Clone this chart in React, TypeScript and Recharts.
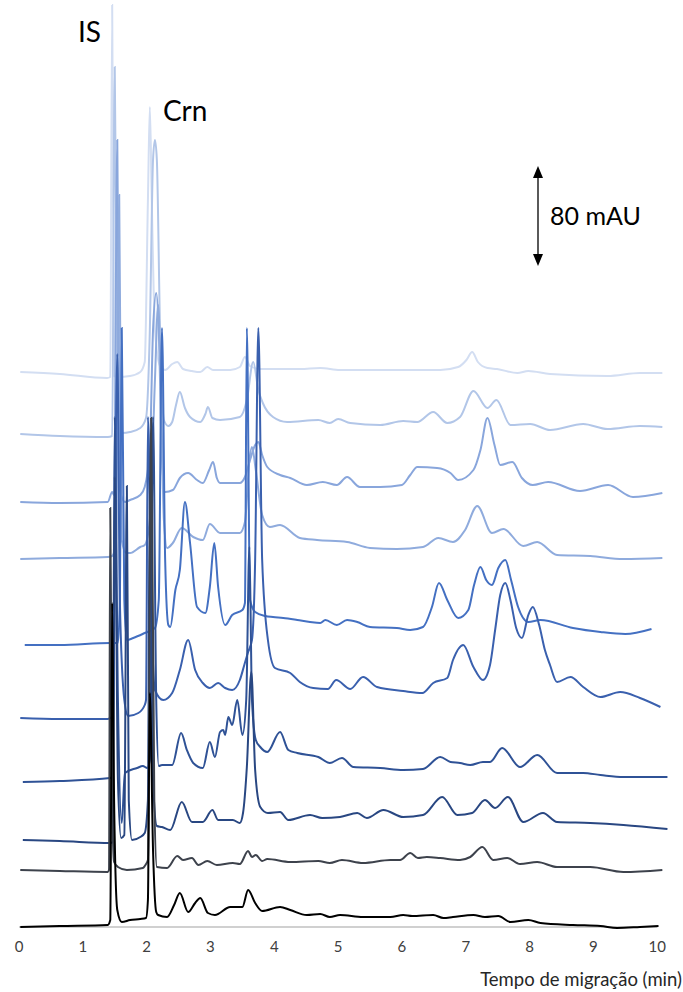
import React from 'react';
import { LineChart, Line, XAxis, YAxis, ReferenceLine } from 'recharts';

// migration time (min) vs signal above each trace's own baseline
type Pt = [number, number];

const TICKS = [0, 1, 2, 3, 4, 5, 6, 7, 8, 9, 10];

// vertical offset of each electropherogram (stacked, top trace first)
const OFFSETS = [554, 492, 424, 369, 283, 209, 145, 86, 56, 1];

const COLORS = ['#d3def2', '#b2c6e8', '#89a6dc', '#8fabdd', '#4470c2', '#3a60ae', '#2f5296', '#294782', '#3d424c', '#000000'];

const trace1: Pt[] = [
  [0.02, 1], [0.64, -1], [1.38, -5], [1.43, -4], [1.46, 368], [1.49, -3], [1.55, -4], [1.74, -3], [1.9, 1],
  [1.97, 11], [2.02, 173], [2.05, 266], [2.08, 173], [2.13, 43], [2.21, 7], [2.29, 3], [2.4, 9], [2.48, 11],
  [2.57, 4], [2.71, 2], [2.84, 1], [2.95, 6], [3.04, 3], [3.31, 3], [3.46, 6], [3.54, 16], [3.62, 7], [3.78, 4],
  [4.4, 4], [4.72, 5], [5.03, 3], [5.97, 3], [6.6, 3], [6.88, 6], [7.01, 13], [7.1, 21], [7.19, 11], [7.34, 5],
  [7.49, 4], [7.81, 0], [7.98, 2], [8.32, -1], [9.22, -3], [9.73, 0], [10.08, 0],
];

const trace2: Pt[] = [
  [0.02, 1], [0.64, -1], [1.39, -2], [1.46, -1], [1.5, 368], [1.55, 10], [1.61, 2], [1.74, 3], [1.9, 7],
  [1.99, 17], [2.05, 105], [2.1, 275], [2.13, 295], [2.16, 275], [2.21, 105], [2.27, 15], [2.34, 9], [2.4, 13],
  [2.46, 30], [2.52, 43], [2.6, 27], [2.68, 18], [2.84, 13], [2.92, 21], [2.96, 28], [3.03, 17], [3.15, 15],
  [3.46, 18], [3.57, 35], [3.67, 73], [3.75, 45], [3.82, 32], [3.98, 18], [4.2, 13], [4.69, 15], [4.87, 12],
  [5.0, 16], [5.19, 12], [5.66, 10], [6.02, 14], [6.24, 13], [6.49, 23], [6.71, 12], [6.91, 18], [7.12, 44],
  [7.34, 27], [7.48, 35], [7.7, 10], [8.01, 11], [8.32, 5], [8.84, 11], [9.22, 6], [9.73, 9], [10.08, 8],
];

const trace3: Pt[] = [
  [0.02, 1], [0.64, 0], [1.39, 1], [1.46, 11], [1.49, 8], [1.54, 363], [1.58, 13], [1.66, 1], [1.74, 3],
  [1.9, 8], [1.97, 16], [2.05, 53], [2.1, 173], [2.15, 210], [2.19, 173], [2.24, 43], [2.29, 11], [2.41, 13],
  [2.52, 25], [2.65, 30], [2.79, 23], [2.88, 20], [2.98, 33], [3.04, 41], [3.1, 25], [3.15, 20], [3.46, 20],
  [3.54, 26], [3.62, 43], [3.7, 58], [3.75, 61], [3.81, 48], [3.89, 36], [4.09, 28], [4.25, 25], [4.51, 18],
  [4.76, 21], [4.98, 18], [5.14, 26], [5.34, 16], [5.66, 16], [6.0, 18], [6.13, 28], [6.24, 36], [6.55, 35],
  [6.76, 30], [6.88, 23], [7.12, 33], [7.23, 53], [7.34, 85], [7.45, 58], [7.54, 38], [7.73, 41], [7.88, 25],
  [8.05, 18], [8.29, 21], [8.79, 12], [9.23, 18], [9.62, 6], [10.08, 10],
];

const trace4: Pt[] = [
  [0.02, -1], [0.64, 0], [1.39, 1], [1.46, 2], [1.52, 18], [1.57, 363], [1.61, 18], [1.68, 5], [1.74, 5],
  [1.9, 11], [1.97, 13], [2.05, 38], [2.13, 178], [2.18, 253], [2.22, 178], [2.27, 38], [2.32, 10], [2.41, 15],
  [2.55, 30], [2.73, 21], [2.88, 18], [2.99, 34], [3.15, 25], [3.46, 25], [3.54, 36], [3.61, 98], [3.65, 111],
  [3.71, 88], [3.81, 43], [3.93, 31], [4.09, 33], [4.4, 20], [4.67, 18], [5.14, 16], [5.5, 10], [5.92, 9],
  [6.33, 11], [6.57, 20], [6.8, 16], [6.99, 28], [7.18, 52], [7.41, 25], [7.59, 29], [7.9, 12], [8.12, 16],
  [8.43, 3], [8.95, 2], [9.47, -1], [10.08, 0],
];

const trace5: Pt[] = [
  [0.09, -1], [0.64, -1], [1.43, 1], [1.55, 1], [1.58, 44], [1.61, 316], [1.65, 44], [1.69, 4], [1.79, 6],
  [1.97, 11], [2.13, 16], [2.19, 44], [2.24, 316], [2.29, 84], [2.34, 19], [2.37, 17], [2.45, 54], [2.52, 74],
  [2.6, 142], [2.68, 101], [2.79, 37], [2.92, 31], [2.99, 57], [3.06, 101], [3.12, 57], [3.23, 19], [3.34, 29],
  [3.5, 34], [3.54, 41], [3.57, 316], [3.62, 44], [3.7, 32], [3.86, 28], [3.98, 27], [4.14, 26], [4.36, 24],
  [4.56, 22], [4.72, 21], [4.8, 24], [4.98, 19], [5.14, 24], [5.3, 22], [5.5, 17], [5.92, 16], [6.13, 14],
  [6.33, 17], [6.47, 37], [6.58, 61], [6.71, 44], [6.88, 26], [7.04, 34], [7.13, 59], [7.23, 77], [7.32, 64],
  [7.41, 59], [7.51, 76], [7.62, 84], [7.71, 64], [7.82, 37], [7.98, 22], [8.17, 24], [8.68, 16], [9.11, 12],
  [9.5, 10], [9.91, 15],
];

const trace6: Pt[] = [
  [0.02, 0], [0.64, -1], [1.39, -1], [1.47, 2], [1.54, 364], [1.58, 118], [1.65, 18], [1.71, 2], [1.87, 5],
  [1.97, 13], [1.99, 18], [2.02, 301], [2.07, 118], [2.13, 28], [2.26, 18], [2.4, 25], [2.52, 48], [2.65, 78],
  [2.76, 48], [2.88, 35], [2.99, 30], [3.12, 35], [3.23, 30], [3.34, 28], [3.46, 38], [3.53, 53], [3.59, 66],
  [3.65, 78], [3.7, 158], [3.75, 390], [3.81, 158], [3.9, 78], [4.01, 50], [4.25, 45], [4.4, 36], [4.61, 30],
  [4.84, 29], [4.97, 38], [5.19, 29], [5.39, 41], [5.61, 31], [6.02, 27], [6.32, 25], [6.49, 35], [6.71, 40],
  [6.8, 58], [6.96, 73], [7.12, 51], [7.27, 38], [7.38, 53], [7.46, 88], [7.54, 123], [7.62, 135], [7.7, 118],
  [7.79, 90], [7.88, 80], [7.98, 103], [8.05, 111], [8.15, 93], [8.24, 68], [8.32, 53], [8.43, 36], [8.64, 41],
  [8.84, 31], [9.11, 21], [9.42, 26], [9.73, 20], [10.05, 11],
];

const trace7: Pt[] = [
  [0.06, 0], [0.64, 1], [1.43, 4], [1.47, 6], [1.5, 365], [1.55, 82], [1.61, -41], [1.66, 9], [1.85, 14],
  [1.94, 16], [2.01, 14], [2.05, 22], [2.1, 365], [2.15, 82], [2.19, 16], [2.24, 17], [2.4, 17], [2.54, 49],
  [2.63, 32], [2.73, 19], [2.88, 14], [2.99, 40], [3.07, 25], [3.15, 50], [3.2, 52], [3.23, 47], [3.28, 65],
  [3.34, 57], [3.42, 82], [3.5, 47], [3.56, 82], [3.61, 235], [3.65, 82], [3.71, 42], [3.78, 35], [3.89, 30],
  [4.09, 50], [4.22, 32], [4.36, 29], [4.69, 25], [4.87, 19], [5.06, 24], [5.24, 15], [5.66, 14], [6.02, 12],
  [6.33, 13], [6.6, 25], [6.76, 20], [6.91, 19], [7.07, 17], [7.27, 20], [7.38, 20], [7.57, 34], [7.85, 15],
  [8.12, 27], [8.43, 9], [8.84, 9], [9.11, 7], [9.47, 5], [10.16, 5],
];

const trace8: Pt[] = [
  [0.06, 1], [0.64, 0], [1.43, -2], [1.47, -1], [1.5, 364], [1.55, 61], [1.6, 3], [1.65, 6], [1.69, 355],
  [1.72, 41], [1.77, 1], [1.9, 4], [1.97, 8], [2.02, 41], [2.05, 364], [2.1, 61], [2.16, 15], [2.24, 14],
  [2.37, 11], [2.55, 39], [2.71, 19], [2.88, 19], [3.03, 31], [3.12, 21], [3.35, 21], [3.46, 18], [3.51, 28],
  [3.57, 74], [3.64, 169], [3.7, 71], [3.78, 34], [3.9, 28], [4.09, 29], [4.22, 21], [4.56, 26], [4.75, 23],
  [5.03, 24], [5.3, 28], [5.45, 23], [5.71, 31], [6.02, 24], [6.33, 26], [6.63, 44], [6.87, 26], [7.1, 28],
  [7.3, 41], [7.46, 33], [7.66, 44], [7.9, 19], [8.21, 28], [8.43, 19], [8.95, 18], [9.47, 16], [10.16, 12],
];

const trace9: Pt[] = [
  [0.02, 1], [0.64, 0], [1.39, -1], [1.41, 1], [1.43, 363], [1.46, 71], [1.49, 9], [1.55, 4], [1.69, 1],
  [1.94, 3], [1.97, 5], [2.02, 11], [2.07, 453], [2.12, 71], [2.16, 4], [2.32, 3], [2.48, 15], [2.57, 11],
  [2.71, 13], [2.81, 6], [2.95, 10], [3.1, 6], [3.35, 8], [3.46, 7], [3.59, 20], [3.65, 14], [3.71, 16],
  [3.81, 10], [3.89, 12], [4.25, 9], [4.69, 10], [4.87, 8], [5.06, 11], [5.39, 8], [5.82, 11], [5.97, 11],
  [6.13, 18], [6.25, 13], [6.39, 14], [6.6, 13], [6.91, 11], [7.07, 14], [7.26, 24], [7.43, 11], [7.65, 13],
  [7.85, 7], [8.12, 9], [8.43, 4], [8.95, 4], [9.47, -1], [10.08, 1],
];

const trace10: Pt[] = [
  [0.02, -1], [0.64, 0], [1.39, 1], [1.43, 6], [1.46, 323], [1.49, 126], [1.54, 16], [1.61, 4], [1.74, 6],
  [1.9, 7], [1.99, 8], [2.02, 26], [2.05, 233], [2.1, 76], [2.15, 14], [2.18, 11], [2.32, 9], [2.43, 21],
  [2.52, 33], [2.65, 14], [2.76, 23], [2.84, 28], [2.96, 13], [3.07, 11], [3.31, 19], [3.5, 19], [3.59, 36],
  [3.7, 23], [3.81, 15], [4.09, 19], [4.25, 16], [4.51, 11], [4.72, 12], [4.87, 9], [5.03, 11], [5.39, 9],
  [5.82, 9], [6.02, 11], [6.16, 10], [6.49, 11], [6.65, 8], [6.8, 9], [7.12, 11], [7.3, 9], [7.51, 10],
  [7.7, 4], [7.98, 6], [8.17, 3], [8.68, 1], [9.11, 0], [9.37, -2], [9.73, -1], [10.02, 0],
];

const TRACES = [trace1, trace2, trace3, trace4, trace5, trace6, trace7, trace8, trace9, trace10];

const font = 'Lato, "Open Sans", sans-serif';

export default function App() {
  const series = TRACES.map((tr, i) => tr.map(([t, s]) => ({ t, v: OFFSETS[i] + s })));

  return (
    <div style={{ position: 'absolute', left: 0, top: 0, width: 683, height: 992, background: '#fff' }}>
      <LineChart width={683} height={992} margin={{ top: 0, right: 13, left: 19, bottom: 7 }}>
        <XAxis
          dataKey="t"
          type="number"
          domain={[0, 10.2]}
          ticks={TICKS}
          axisLine={false}
          tickLine={false}
          tickMargin={0}
          height={50}
          tick={{ fontSize: 15, fill: '#404040', fontFamily: font }}
        />
        <YAxis type="number" domain={[-8, 927]} hide />
        <ReferenceLine segment={[{ x: 0, y: 0 }, { x: 10, y: 0 }]} stroke="#c0c0c0" strokeWidth={1.5} />
        {series.map((d, i) => (
          <Line
            key={i}
            data={d}
            dataKey="v"
            type="monotone"
            stroke={COLORS[i]}
            strokeWidth={2}
            dot={false}
            isAnimationActive={false}
          />
        ))}
      </LineChart>
      <svg width={683} height={992} style={{ position: 'absolute', left: 0, top: 0, pointerEvents: 'none' }}>
        <text x={78} y={42} fontSize={28} fontFamily={font} fill="#000">IS</text>
        <text x={163} y={121} fontSize={28} fontFamily={font} fill="#000">Crn</text>
        <line x1={538} y1={176} x2={538} y2={256} stroke="#000" strokeWidth={1.3} />
        <polygon points="538,166 533,178 543,178" fill="#000" />
        <polygon points="538,266 533,254 543,254" fill="#000" />
        <text x={550} y={225} fontSize={25} fontFamily={font} fill="#000">80 mAU</text>
        <text x={682} y={986} fontSize={18.5} fontFamily={font} fill="#262626" textAnchor="end">Tempo de migração (min)</text>
      </svg>
    </div>
  );
}
